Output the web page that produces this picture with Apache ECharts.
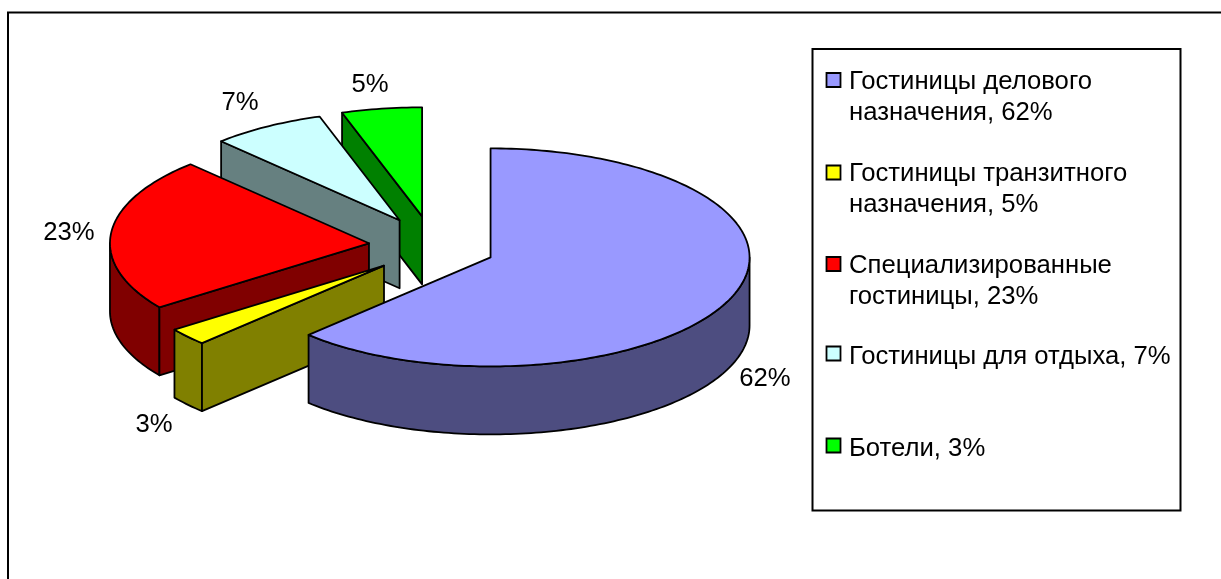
<!DOCTYPE html>
<html>
<head>
<meta charset="utf-8">
<style>
  html, body { margin: 0; padding: 0; background: #fff; }
  #chart { width: 1221px; height: 579px; }
</style>
<script src="https://cdn.jsdelivr.net/npm/echarts@6/dist/echarts.min.js"></script>
</head>
<body>
<div id="chart"></div>
<script>
// slices clockwise from 12 o'clock, labels show them rounded
var sliceValues = [62.4, 2.6, 22.9, 7.1, 5]
var sliceTops = ['#9999ff', '#ffff00', '#ff0000', '#ccffff', '#00ff00']
var sliceSides = ['#4d4d80', '#808000', '#800000', '#668080', '#008000']
// legend text is kept as printed, it does not agree with the slice labels
var legendLines = [
  ['Гостиницы делового', 'назначения, 62%'],
  ['Гостиницы транзитного', 'назначения, 5%'],
  ['Специализированные', 'гостиницы, 23%'],
  ['Гостиницы для отдыха, 7%'],
  ['Ботели, 3%']
]

// pie layout
var cx = 432, cy = 246, rx = 259, ry = 109, depth = 68
var explodeX = 63.3, explodeY = 30
var labelCenters = [[765, 379], [154, 425], [69, 233], [240, 103], [370, 85]]
var legendTops = [73, 165.5, 257, 346.5, 438.5]
var legendTextY = [82, 174, 266, 357, 449]
var font = 'Liberation Sans'
var fontSize = 25.7
var lineHeight = 31
var stroke = 1.8

var total = sliceValues.reduce(function (a, b) { return a + b }, 0)
var starts = []
sliceValues.reduce(function (sum, v, i) { starts[i] = sum; return sum + v }, 0)

function rad(value) { return value / total * Math.PI * 2 }

function arcPoints(x, y, from, to) {
  var pts = []
  var steps = Math.max(2, Math.ceil((to - from) / 0.02))
  for (var s = 0; s <= steps; s++) {
    var a = from + (to - from) * s / steps
    pts.push([x + rx * Math.sin(a), y - ry * Math.cos(a)])
  }
  return pts
}

function poly(points, fill) {
  return {
    type: 'polygon',
    shape: { points: points },
    style: { fill: fill, stroke: '#000', lineWidth: stroke, lineJoin: 'round' }
  }
}

function wall(x, y, a, fill) {
  var edge = [x + rx * Math.sin(a), y - ry * Math.cos(a)]
  return poly([[x, y], edge, [edge[0], edge[1] + depth], [x, y + depth]], fill)
}

function renderSlice(params, api) {
  var i = api.value(0)
  var from = rad(starts[i])
  var to = rad(starts[i] + sliceValues[i])
  var mid = (from + to) / 2
  var x = cx + explodeX * Math.sin(mid)
  var y = cy - explodeY * Math.cos(mid)
  var children = []

  // outer wall, only the part that faces the viewer
  var a0 = Math.max(from, Math.PI / 2)
  var a1 = Math.min(to, Math.PI * 1.5)
  if (a1 > a0) {
    var upper = arcPoints(x, y, a0, a1)
    var lower = upper.map(function (p) { return [p[0], p[1] + depth] }).reverse()
    children.push(poly(upper.concat(lower), sliceSides[i]))
  }
  // cut faces
  if (from > Math.PI && from < Math.PI * 2) children.push(wall(x, y, from, sliceSides[i]))
  if (to > 0 && to < Math.PI) children.push(wall(x, y, to, sliceSides[i]))
  // top
  children.push(poly([[x, y]].concat(arcPoints(x, y, from, to)), sliceTops[i]))
  // label
  children.push({
    type: 'text',
    style: {
      text: Math.round(sliceValues[i]) + '%',
      x: labelCenters[i][0],
      y: labelCenters[i][1],
      align: 'center',
      verticalAlign: 'middle',
      fill: '#000',
      fontFamily: font,
      fontSize: fontSize
    }
  })
  return { type: 'group', children: children }
}

var legendItems = []
legendLines.forEach(function (lines, i) {
  legendItems.push({
    type: 'rect',
    shape: { x: 826.5, y: legendTops[i], width: 14, height: 14 },
    style: { fill: sliceTops[i], stroke: '#000', lineWidth: stroke }
  })
  lines.forEach(function (line, n) {
    legendItems.push({
      type: 'text',
      style: {
        text: line,
        x: 849,
        y: legendTextY[i] + n * lineHeight,
        verticalAlign: 'middle',
        fill: '#000',
        fontFamily: font,
        fontSize: fontSize
      }
    })
  })
})

var chart = echarts.init(document.getElementById('chart'), null, { renderer: 'canvas' })
chart.setOption({
  backgroundColor: '#fff',
  animation: false,
  graphic: [
    // the plot frame runs off the picture on the right and at the bottom
    {
      type: 'polyline',
      shape: { points: [[8, 579], [8, 12.5], [1221, 12.5]] },
      style: { fill: null, stroke: '#000', lineWidth: 2 }
    },
    {
      type: 'rect',
      shape: { x: 812.5, y: 49, width: 368, height: 461.5 },
      style: { fill: '#fff', stroke: '#000', lineWidth: 2 }
    },
    { type: 'group', children: legendItems }
  ],
  series: [{
    type: 'custom',
    coordinateSystem: 'none',
    renderItem: renderSlice,
    silent: true,
    // back slices first so the front ones cover them
    data: [4, 3, 2, 1, 0].map(function (i) { return [i, sliceValues[i]] })
  }]
})
</script>
</body>
</html>
